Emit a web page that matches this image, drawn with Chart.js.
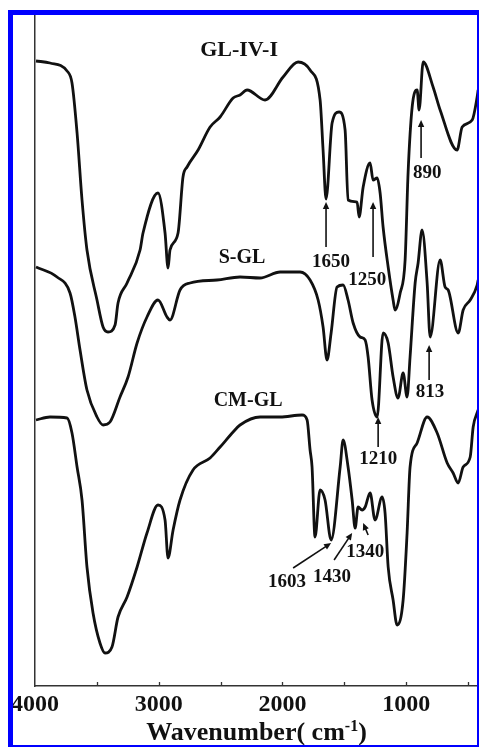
<!DOCTYPE html>
<html>
<head>
<meta charset="utf-8">
<script src="https://cdn.jsdelivr.net/npm/chart.js@4.4.1/dist/chart.umd.min.js"></script>
<style>
  html, body { margin: 0; padding: 0; background: #fff; }
  #wrap { position: absolute; left: 0; top: 0; width: 479px; height: 747px; }
  #frame {
    position: absolute; left: 8px; top: 10px; width: 464px; height: 730px;
    border-left: 5px solid #0000ff; border-top: 5px solid #0000ff;
    border-right: 2px solid #0000ff; border-bottom: 2px solid #0000ff;
    pointer-events: none;
  }
</style>
</head>
<body>
<div id="wrap"><canvas id="ir"></canvas><div id="frame"></div></div>
<script>
// FT-IR spectra (wavenumber cm-1 / transmittance a.u.)
const glWave = [3992,3879,3741,3701,3660,3620,3580,3499,3450,3410,3353,3329,3256,3151,3127,3006,2949,2925,2909,2844,2804,2771,2682,2585,2504,2399,2343,2286,2141,1995,1874,1777,1696,1672,1648,1599,1543,1494,1470,1397,1381,1348,1292,1268,1235,1211,1187,1146,1106,1090,1049,1009,985,952,912,896,863,783,726,589,548,467,427,419];
const glT = [62.5,62.3,61.5,60.3,55.3,48.6,43.6,38.6,35.9,35.4,36.1,38.3,40.3,43.6,45.3,49.3,45.3,41.8,43.6,45.3,50.9,51.9,53.6,55.9,56.9,58.8,59.1,59.6,58.6,60.9,62.4,61.6,58.6,53.6,48.7,56.3,57.4,55.6,48.6,48.4,46.9,49.9,52.3,50.6,50.8,49.3,45.9,41.9,38.6,37.6,39.3,42.6,51.3,57.9,59.6,57.6,62.4,59.9,57.6,53.6,55.9,56.6,58.9,59.6];

const sglWave = [3992,3822,3717,3677,3636,3580,3499,3450,3394,3313,3248,3175,3095,3006,2933,2909,2828,2747,2529,2343,2181,2019,1858,1777,1712,1672,1640,1607,1559,1510,1470,1429,1373,1332,1308,1276,1235,1187,1146,1106,1066,1025,993,969,928,904,872,831,807,726,686,661,580,540,483,427,419];
const sglT = [41.9,40.9,39.3,36.9,33.6,29.6,26.9,26.1,26.4,28.9,30.9,34.3,36.9,38.6,36.9,36.6,39.6,40.3,40.6,40.9,40.8,41.4,41.4,40.6,38.6,35.9,32.6,35.3,39.9,40.1,38.6,36.3,34.9,34.6,32.9,28.6,26.9,35.3,34.3,30.9,28.8,31.3,28.9,32.9,40.3,42.3,45.6,40.3,34.9,42.6,39.9,39.6,35.3,37.6,38.6,40.1,40.6];

const cmWave = [3992,3879,3741,3701,3660,3620,3580,3531,3475,3434,3378,3329,3256,3175,3095,3006,2949,2925,2884,2828,2723,2585,2504,2399,2343,2181,2019,1842,1801,1777,1761,1737,1696,1656,1607,1534,1510,1470,1437,1413,1389,1357,1332,1292,1252,1195,1171,1146,1106,1074,1025,993,969,912,831,750,669,621,580,540,483,459,419];
const cmT = [26.6,26.9,26.8,25.3,21.9,18.6,11.9,7.3,4.3,3.3,3.9,6.9,8.9,11.9,15.3,18.1,16.6,12.8,15.6,18.6,21.6,22.8,23.9,25.4,26.1,26.9,26.9,27.1,26.6,23.6,21.9,14.9,19.6,18.6,14.6,21.9,24.6,21.9,18.6,15.8,17.9,17.6,17.9,19.3,16.6,18.9,17.3,11.9,8.6,6.1,8.6,15.3,21.9,24.3,26.9,25.3,22.3,21.3,20.3,21.9,22.9,25.9,27.6];

// sample names and where they sit
const seriesNames = ["GL-IV-I", "S-GL", "CM-GL"];
const namePos = [[2351, 63.6], [2327, 42.8], [2278, 28.5]];

// band labels, their spot and arrow (from wave,T -> to wave,T)
const peakText = ["1650", "1250", "890", "1210", "813", "1603", "1430", "1340"];
const peakPos = [[1607, 42.4], [1316, 40.6], [831, 51.3], [1227, 22.7], [807, 29.4], [1963, 10.4], [1599, 10.9], [1332, 13.4]];
const peakArrow = [
  [1648, 43.9, 1648, 48.4], [1268, 42.9, 1268, 48.4], [880, 52.8, 880, 56.6],
  [1227, 23.9, 1227, 26.9], [815, 30.6, 815, 34.1], [1914, 11.8, 1607, 14.3],
  [1583, 12.6, 1437, 15.3], [1308, 15.1, 1348, 16.3]
];

// axis
const xTicks = [4000, 3500, 3000, 2500, 2000, 1500, 1000, 500];
const xTickLabels = ["4000", "3000", "2000", "1000"];

const serif = "'Liberation Serif', 'Times New Roman', serif";
const ink = "#111";

const pts = (w, t) => w.map((v, i) => ({ x: v, y: t[i] }));

const mkSet = (name, w, t) => ({
  label: name,
  data: pts(w, t),
  borderColor: ink,
  borderWidth: 2.8,
  pointRadius: 0,
  fill: false,
  cubicInterpolationMode: "monotone",
});

// labels, arrows, tick marks and axis title
const decor = {
  id: "decor",
  afterDraw(chart) {
    const { ctx, chartArea } = chart;
    const xs = chart.scales.x, ys = chart.scales.y;
    ctx.save();

    // little inward ticks
    ctx.strokeStyle = "#333";
    ctx.lineWidth = 1.3;
    xTicks.forEach((v) => {
      const px = Math.round(xs.getPixelForValue(v)) + 0.5;
      if (px < chartArea.left + 2 || px > chartArea.right) return;
      ctx.beginPath();
      ctx.moveTo(px, chartArea.bottom);
      ctx.lineTo(px, chartArea.bottom - 4);
      ctx.stroke();
    });

    ctx.fillStyle = ink;
    ctx.textAlign = "center";
    ctx.textBaseline = "middle";

    seriesNames.forEach((n, i) => {
      ctx.font = "bold " + (i === 0 ? 22 : 20) + "px " + serif;
      ctx.fillText(n, xs.getPixelForValue(namePos[i][0]), ys.getPixelForValue(namePos[i][1]));
    });

    ctx.font = "bold 19px " + serif;
    peakText.forEach((t, i) => {
      ctx.fillText(t, xs.getPixelForValue(peakPos[i][0]), ys.getPixelForValue(peakPos[i][1]));
    });

    // arrows
    ctx.strokeStyle = ink;
    ctx.lineWidth = 1.6;
    peakArrow.forEach((a) => {
      const x1 = xs.getPixelForValue(a[0]), y1 = ys.getPixelForValue(a[1]);
      const x2 = xs.getPixelForValue(a[2]), y2 = ys.getPixelForValue(a[3]);
      const ang = Math.atan2(y2 - y1, x2 - x1);
      const hl = 7, hw = 3.2;
      ctx.beginPath();
      ctx.moveTo(x1, y1);
      ctx.lineTo(x2 - Math.cos(ang) * hl * 0.8, y2 - Math.sin(ang) * hl * 0.8);
      ctx.stroke();
      ctx.beginPath();
      ctx.moveTo(x2, y2);
      ctx.lineTo(x2 - Math.cos(ang) * hl - Math.sin(ang) * hw, y2 - Math.sin(ang) * hl + Math.cos(ang) * hw);
      ctx.lineTo(x2 - Math.cos(ang) * hl + Math.sin(ang) * hw, y2 - Math.sin(ang) * hl - Math.cos(ang) * hw);
      ctx.closePath();
      ctx.fill();
    });

    // axis title with superscript
    const big = "bold 26px " + serif, small = "bold 16px " + serif;
    const p1 = "Wavenumber( cm", p2 = "-1", p3 = ")";
    ctx.font = big; const w1 = ctx.measureText(p1).width, w3 = ctx.measureText(p3).width;
    ctx.font = small; const w2 = ctx.measureText(p2).width;
    let tx = (chartArea.left + chartArea.right) / 2 - (w1 + w2 + w3) / 2;
    const base = chartArea.bottom + 54;
    ctx.textAlign = "left";
    ctx.textBaseline = "alphabetic";
    ctx.font = big; ctx.fillText(p1, tx, base); tx += w1;
    ctx.font = small; ctx.fillText(p2, tx, base - 9); tx += w2;
    ctx.font = big; ctx.fillText(p3, tx, base);

    ctx.restore();
  },
};

new Chart(document.getElementById("ir"), {
  type: "line",
  data: {
    datasets: [
      mkSet(seriesNames[0], glWave, glT),
      mkSet(seriesNames[1], sglWave, sglT),
      mkSet(seriesNames[2], cmWave, cmT),
    ],
  },
  options: {
    responsive: true,
    maintainAspectRatio: false,
    animation: false,
    layout: { padding: { left: 35, top: 15, right: 1, bottom: 0 } },
    plugins: { legend: { display: false }, tooltip: { enabled: false } },
    scales: {
      x: {
        type: "linear",
        reverse: true,
        min: 420,
        max: 4000,
        afterBuildTicks: (s) => { s.ticks = xTicks.map((v) => ({ value: v })); },
        afterFit: (s) => { s.height = 61; },
        ticks: {
          autoSkip: false,
          maxRotation: 0,
          padding: 4,
          color: ink,
          font: { family: serif, size: 24, weight: "bold" },
          callback: (v) => (xTickLabels.includes(String(v)) ? String(v) : ""),
        },
        grid: { display: false, drawTicks: false },
        border: { display: true, color: "#333", width: 1.5 },
      },
      y: {
        min: 0,
        max: 67.1,
        afterFit: (s) => { s.width = 0; },
        ticks: { display: false },
        grid: { display: false, drawTicks: false },
        border: { display: true, color: "#333", width: 1.5 },
      },
    },
  },
  plugins: [decor],
});
</script>
</body>
</html>
